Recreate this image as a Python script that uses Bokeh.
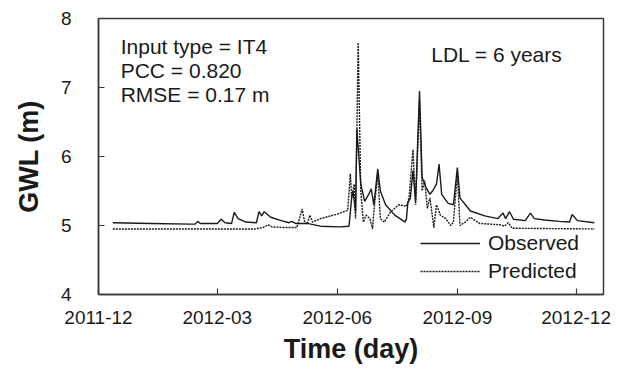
import pandas as pd
from bokeh.plotting import figure
from bokeh.models import (Label, Legend, LegendItem, FixedTicker,
                          DatetimeTickFormatter, Range1d)
from bokeh.embed import file_html
from bokeh.resources import INLINE

# ---------------- data ----------------
obs_dates = ["2011-12-12", "2012-01-10", "2012-02-10", "2012-02-13", "2012-02-15",
             "2012-02-17", "2012-03-01", "2012-03-04", "2012-03-07", "2012-03-12",
             "2012-03-14", "2012-03-17", "2012-03-23", "2012-03-31", "2012-04-02",
             "2012-04-04", "2012-04-06", "2012-04-11", "2012-04-19", "2012-04-25",
             "2012-04-27", "2012-04-30", "2012-05-09", "2012-05-19", "2012-06-03",
             "2012-06-10", "2012-06-12", "2012-06-13", "2012-06-15", "2012-06-16",
             "2012-06-19", "2012-06-22", "2012-06-25", "2012-06-27", "2012-06-29",
             "2012-07-02", "2012-07-04", "2012-07-08", "2012-07-15", "2012-07-23",
             "2012-07-24", "2012-07-25", "2012-07-27", "2012-07-29", "2012-07-31",
             "2012-08-03", "2012-08-05", "2012-08-08", "2012-08-11", "2012-08-13",
             "2012-08-16", "2012-08-18", "2012-08-20", "2012-08-25", "2012-08-29",
             "2012-09-01", "2012-09-03", "2012-09-11", "2012-09-22", "2012-10-02",
             "2012-10-06", "2012-10-08", "2012-10-11", "2012-10-14", "2012-10-23",
             "2012-10-27", "2012-10-30", "2012-11-07", "2012-11-18", "2012-11-26",
             "2012-11-28", "2012-12-02", "2012-12-15"]
observed = [5.04, 5.03, 5.02, 5.02, 5.06,
            5.03, 5.03, 5.09, 5.04, 5.03,
            5.19, 5.10, 5.05, 5.04, 5.20,
            5.14, 5.20, 5.12, 5.07, 5.04,
            5.06, 5.03, 5.03, 4.99, 4.98,
            4.99, 5.40, 5.50, 5.20, 6.40,
            5.60, 5.35, 5.45, 5.53, 5.30,
            5.82, 5.50, 5.30, 5.15, 5.05,
            5.10, 5.32, 5.40, 5.80, 5.35,
            6.95, 5.70, 5.55, 5.45, 5.50,
            5.60, 5.89, 5.45, 5.32, 5.30,
            5.84, 5.40, 5.21, 5.14, 5.10,
            5.18, 5.10, 5.20, 5.09, 5.07,
            5.18, 5.10, 5.08, 5.06, 5.05,
            5.16, 5.07, 5.04]

pred_dates = ["2011-12-12", "2012-03-30", "2012-04-05", "2012-04-09", "2012-04-12",
              "2012-04-22", "2012-05-01", "2012-05-03", "2012-05-05", "2012-05-07",
              "2012-05-09", "2012-05-11", "2012-05-13", "2012-05-19", "2012-05-31",
              "2012-06-09", "2012-06-11", "2012-06-12", "2012-06-14", "2012-06-15",
              "2012-06-17", "2012-06-19", "2012-06-21", "2012-06-23", "2012-06-26",
              "2012-06-28", "2012-06-29", "2012-07-02", "2012-07-04", "2012-07-07",
              "2012-07-12", "2012-07-18", "2012-07-24", "2012-07-26", "2012-07-29",
              "2012-07-31", "2012-08-03", "2012-08-05", "2012-08-07", "2012-08-09",
              "2012-08-11", "2012-08-14", "2012-08-16", "2012-08-19", "2012-08-23",
              "2012-08-27", "2012-08-29", "2012-09-01", "2012-09-03", "2012-09-07",
              "2012-09-11", "2012-09-18", "2012-10-04", "2012-10-07", "2012-10-10",
              "2012-10-13", "2012-12-15"]
predicted = [4.95, 4.95, 4.97, 5.01, 4.98,
             4.97, 4.97, 5.10, 5.24, 5.05,
             5.02, 5.15, 5.05, 5.10, 5.16,
             5.22, 5.75, 5.40, 5.60, 5.10,
             7.65, 5.50, 5.05, 5.15, 5.10,
             4.95, 5.20, 5.75, 5.10, 5.05,
             5.20, 5.30, 5.28, 5.40, 6.10,
             5.30, 6.80, 5.50, 5.65, 5.25,
             5.40, 4.97, 5.30, 5.15, 5.10,
             5.00, 5.05, 5.75, 5.00, 5.05,
             5.12, 5.03, 5.01, 4.99, 5.04,
             4.96, 4.95]

x_tick_dates = ["2011-12-01", "2012-03-01", "2012-06-01", "2012-09-01", "2012-12-01"]
y_ticks = [4, 5, 6, 7, 8]
legend_labels = ["Observed", "Predicted"]
info_lines = ["Input type = IT4", "PCC = 0.820", "RMSE = 0.17 m"]
ldl_text = "LDL = 6 years"

# ---------------- figure ----------------
FONT = "Liberation Sans"
INK = "#1a1a1a"
FRAME = "#3a3a3a"

def ms(s):
    return pd.Timestamp(s).value / 1e6

p = figure(width=626, height=372, x_axis_type="datetime",
           output_backend="svg", toolbar_location=None,
           x_range=Range1d(ms("2011-12-01"), ms("2012-12-22")),
           y_range=Range1d(4, 8),
           min_border_left=98, min_border_right=23,
           min_border_top=18, min_border_bottom=78)
p.background_fill_color = "white"
p.border_fill_color = "white"
p.xgrid.visible = False
p.ygrid.visible = False
p.outline_line_color = FRAME
p.outline_line_width = 1.5

for ax in (p.xaxis[0], p.yaxis[0]):
    ax.axis_line_color = FRAME
    ax.axis_line_width = 1.5
    ax.major_tick_line_color = FRAME
    ax.major_tick_line_width = 1.2
    ax.major_tick_in = 6
    ax.major_tick_out = 0
    ax.minor_tick_line_color = None
    ax.major_label_text_font = FONT
    ax.major_label_text_font_size = "19px"
    ax.major_label_text_color = INK
    ax.axis_label_text_font = FONT
    ax.axis_label_text_font_size = "27px"
    ax.axis_label_text_font_style = "bold"
    ax.axis_label_text_color = INK

p.xaxis.ticker = FixedTicker(ticks=[ms(d) for d in x_tick_dates])
p.xaxis.formatter = DatetimeTickFormatter(
    years="%Y-%m", months="%Y-%m", days="%Y-%m", hours="%Y-%m",
    minutes="%Y-%m", seconds="%Y-%m", milliseconds="%Y-%m",
    microseconds="%Y-%m", context=None)
p.xaxis.axis_label = "Time (day)"
p.xaxis.major_label_standoff = 16
p.xaxis.axis_label_standoff = 7

p.yaxis.ticker = FixedTicker(ticks=y_ticks)
p.yaxis.axis_label = "GWL (m)"
p.yaxis.major_label_standoff = 27
p.yaxis.axis_label_standoff = 14

obs_x = [ms(d) for d in obs_dates]
pred_x = [ms(d) for d in pred_dates]
r_obs = p.line(obs_x, observed, line_color=INK, line_width=1.4)
r_pred = p.line(pred_x, predicted, line_color=INK, line_width=1.4,
                line_dash="2 1")

legend = Legend(items=[LegendItem(label=legend_labels[0], renderers=[r_obs]),
                       LegendItem(label=legend_labels[1], renderers=[r_pred])],
                location=(322, 9), orientation="vertical",
                background_fill_alpha=0, border_line_color=None,
                label_text_font=FONT, label_text_font_size="21px",
                label_text_color=INK, glyph_width=60, glyph_height=28,
                label_height=28, label_standoff=8, spacing=0,
                padding=0, margin=0)
p.add_layout(legend)

info_y = [7.6, 7.25, 6.9]
for txt, yv in zip(info_lines, info_y):
    p.add_layout(Label(x=ms("2011-12-18"), y=yv, text=txt,
                       text_font=FONT, text_font_size="21px",
                       text_color=INK, text_baseline="middle"))
p.add_layout(Label(x=ms("2012-08-12"), y=7.48, text=ldl_text,
                   text_font=FONT, text_font_size="21px",
                   text_color=INK, text_baseline="middle"))

open("out.html", "w").write(file_html(p, INLINE))
